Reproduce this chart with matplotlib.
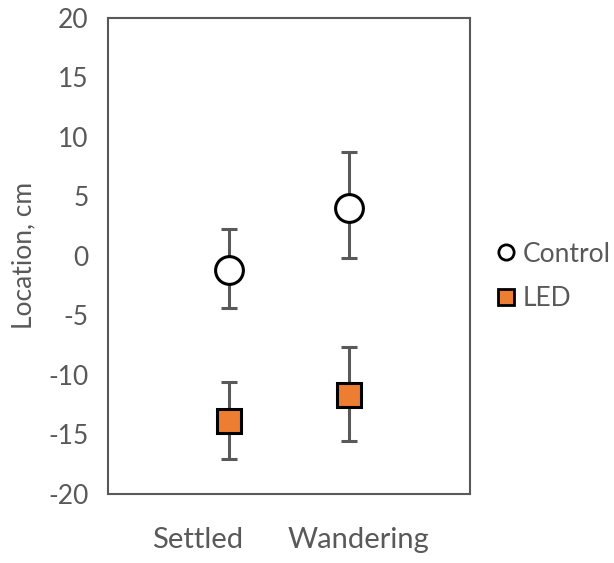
import matplotlib.pyplot as plt
from matplotlib.lines import Line2D

plt.rcParams['font.family'] = ['Lato', 'DejaVu Sans']
plt.rcParams['axes.unicode_minus'] = False

# dados
categorias = ['Settled', 'Wandering']
control_media = [-1.2, 4.0]
control_sup = [2.3, 8.7]
control_inf = [-4.4, -0.2]
led_media = [-13.9, -11.7]
led_sup = [-10.6, -7.7]
led_inf = [-17.1, -15.6]

cinza = '#595959'
laranja = '#ED7D31'

fig = plt.figure(figsize=(6.14, 5.63), dpi=100)
ax = fig.add_axes([0.176, 0.123, 0.589, 0.845])

x = list(range(len(categorias)))

# barras de erro
for med, sup, inf in [(control_media, control_sup, control_inf), (led_media, led_sup, led_inf)]:
    err = [[m - i for m, i in zip(med, inf)], [s - m for m, s in zip(med, sup)]]
    ax.errorbar(x, med, yerr=err, fmt='none', ecolor=cinza, elinewidth=2.2,
                capsize=6, capthick=2.2, zorder=2)

ax.plot(x, control_media, 'o', ms=20, mfc='white', mec='black', mew=2.2,
        linestyle='none', zorder=3)
ax.plot(x, led_media, 's', ms=17, mfc=laranja, mec='black', mew=2.2,
        linestyle='none', zorder=3)

ax.set_xlim(-1, 2)
ax.set_ylim(-20, 20)
ax.set_yticks(range(-20, 21, 5))
# rótulos do eixo x ficam um pouco deslocados, como no original
ax.set_xticks([-0.26, 1.08])
ax.set_xticklabels(categorias)
ax.tick_params(length=0, labelsize=19, colors=cinza)
ax.tick_params(axis='y', pad=14)
ax.tick_params(axis='x', pad=24, labelsize=21)
ax.set_ylabel('Location, cm', fontsize=19, color=cinza)
ax.yaxis.set_label_coords(-0.199, 0.5)

for s in ax.spines.values():
    s.set_color(cinza)
    s.set_linewidth(1.5)

# legenda
handles = [
    Line2D([], [], marker='o', ls='none', ms=11, mfc='white', mec='black', mew=2),
    Line2D([], [], marker='s', ls='none', ms=11, mfc=laranja, mec='black', mew=2),
]
fig.legend(handles, ['Control', 'LED'], loc='center left', bbox_to_anchor=(0.781, 0.509),
           frameon=False, fontsize=19, labelcolor=cinza, handletextpad=0.15,
           handlelength=1.0, labelspacing=0.75, borderpad=0)

fig.savefig('out.png', dpi=100)
